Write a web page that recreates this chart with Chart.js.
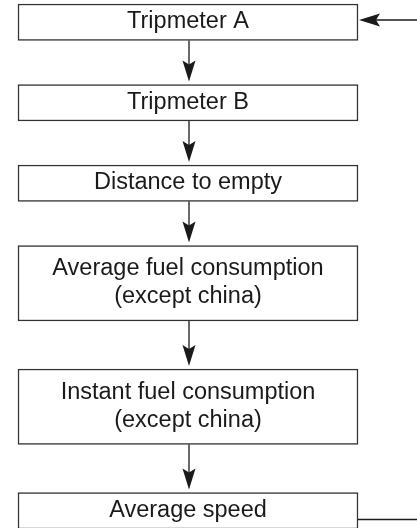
<!DOCTYPE html>
<html>
<head>
<meta charset="utf-8">
<script src="https://cdn.jsdelivr.net/npm/chart.js@4.4.1/dist/chart.umd.min.js"></script>
<style>
  html, body { margin: 0; padding: 0; background: #fff; overflow: hidden; }
  #wrap { width: 417px; height: 528px; }
  canvas { display: block; }
</style>
</head>
<body>
<div id="wrap"><canvas id="flowChart" width="417" height="528"></canvas></div>
<script>
// flow steps, top to bottom ("\n" = second line in the box)
const steps = [
  "Tripmeter A",
  "Tripmeter B",
  "Distance to empty",
  "Average fuel consumption\n(except china)",
  "Instant fuel consumption\n(except china)",
  "Average speed"
];
// last step loops back to the first one
const loopFrom = steps.length - 1;
const loopTo = 0;

// layout (in axis units, axes span the canvas 1:1)
const boxLeft = 18, boxRight = 358, firstTop = 4;
const lineHeight = 28, singleBoxHeight = 36.5, gapBase = 44;

function boxRanges() {
  const ranges = [];
  let top = firstTop;
  steps.forEach(s => {
    const n = s.split("\n").length;
    const h = singleBoxHeight + (n - 1) * (lineHeight + 11);
    ranges.push({ x: (boxLeft + boxRight) / 2, y: [top, top + h] });
    top += h + gapBase + (n - 1) * 4;
  });
  return ranges;
}

function arrowHead(ctx, x, y, dir) {
  // barbed head, dir: 'down' or 'left'
  const len = 21, half = 6.5, notch = 4;
  ctx.beginPath();
  if (dir === 'down') {
    ctx.moveTo(x, y);
    ctx.lineTo(x - half, y - len);
    ctx.lineTo(x, y - len + notch);
    ctx.lineTo(x + half, y - len);
  } else {
    ctx.moveTo(x, y);
    ctx.lineTo(x + len, y - half);
    ctx.lineTo(x + len - notch, y);
    ctx.lineTo(x + len, y + half);
  }
  ctx.closePath();
  ctx.fill();
}

const flowPlugin = {
  id: 'flowPlugin',
  afterDatasetsDraw(chart) {
    const ctx = chart.ctx;
    const xs = chart.scales.x;
    const bars = chart.getDatasetMeta(0).data;
    const boxes = bars.map(b => {
      const p = b.getProps(['x', 'y', 'base', 'width'], true);
      return {
        cx: p.x,
        left: p.x - p.width / 2,
        right: p.x + p.width / 2,
        top: Math.min(p.y, p.base),
        bottom: Math.max(p.y, p.base)
      };
    });

    ctx.save();
    // labels
    const size = 23.5;
    ctx.font = size + "px 'Liberation Sans', Arial, sans-serif";
    ctx.fillStyle = "#1a1a1a";
    ctx.textAlign = "center";
    ctx.textBaseline = "alphabetic";
    steps.forEach((s, i) => {
      const lines = s.split("\n");
      const b = boxes[i];
      const mid = (b.top + b.bottom) / 2 - 2.5;
      lines.forEach((line, k) => {
        const base = mid + size * 0.716 / 2 + (k - (lines.length - 1) / 2) * lineHeight;
        ctx.fillText(line, b.cx, base);
      });
    });

    // arrows between steps
    ctx.strokeStyle = "#1a1a1a";
    ctx.fillStyle = "#1a1a1a";
    ctx.lineWidth = 1.3;
    const ax = boxes[0].cx + 1;
    for (let i = 0; i < boxes.length - 1; i++) {
      const y0 = boxes[i].bottom;
      const tip = boxes[i + 1].top - 3;
      ctx.beginPath();
      ctx.moveTo(ax, y0);
      ctx.lineTo(ax, tip - 10);
      ctx.stroke();
      arrowHead(ctx, ax, tip, 'down');
    }

    // loop: out of the last box, back into the first
    const edge = xs.getPixelForValue(417);
    const inY = boxes[loopTo].top + 16;
    ctx.beginPath();
    ctx.moveTo(edge, inY);
    ctx.lineTo(boxes[loopTo].right + 10, inY);
    ctx.stroke();
    arrowHead(ctx, boxes[loopTo].right + 1, inY, 'left');

    const outY = boxes[loopFrom].top + 27;
    ctx.beginPath();
    ctx.moveTo(boxes[loopFrom].right, outY);
    ctx.lineTo(edge, outY);
    ctx.stroke();
    ctx.restore();
  }
};

new Chart(document.getElementById('flowChart'), {
  type: 'bar',
  data: {
    datasets: [{
      data: boxRanges(),
      backgroundColor: '#ffffff',
      borderColor: '#333333',
      borderWidth: 1.5,
      borderSkipped: false,
      barThickness: boxRight - boxLeft
    }]
  },
  options: {
    responsive: false,
    animation: false,
    events: [],
    layout: { padding: 0 },
    plugins: { legend: { display: false }, tooltip: { enabled: false } },
    scales: {
      x: { type: 'linear', min: 0, max: 417, offset: false, display: false },
      y: { type: 'linear', min: 0, max: 528, reverse: true, display: false }
    }
  },
  plugins: [flowPlugin]
});
</script>
</body>
</html>
